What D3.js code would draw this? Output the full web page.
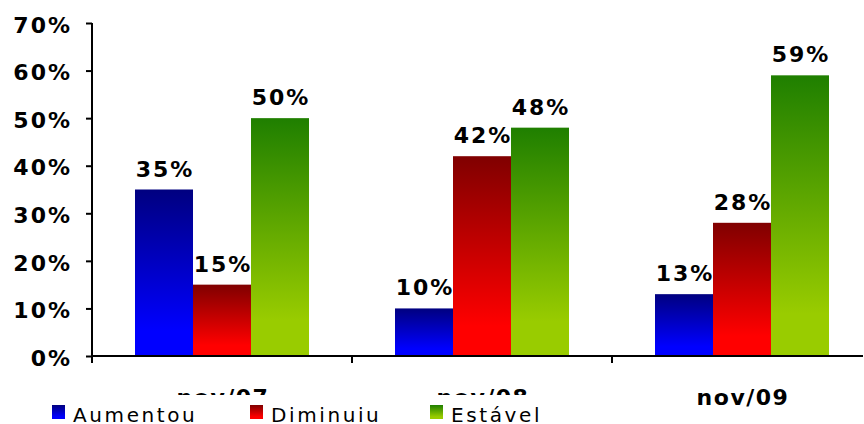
<!DOCTYPE html>
<html><head><meta charset="utf-8">
<script src="https://cdn.jsdelivr.net/npm/d3@7"></script>
<style>body{margin:0;background:#fff}svg{display:block}</style>
</head><body>
<svg id="c" width="864" height="424"></svg>
<script>
const categories = ["nov/07", "nov/08", "nov/09"];
const seriesNames = ["Aumentou", "Diminuiu", "Estável"];
const aumentou = [35, 10, 13];
const diminuiu = [15, 42, 28];
const estavel = [50, 48, 59];
const yTicks = [0, 10, 20, 30, 40, 50, 60, 70];

const series = [aumentou, diminuiu, estavel];
const colors = [["#000080", "#0000ff"], ["#800000", "#ff0000"], ["#1f7f00", "#99cc00"]];

const svg = d3.select("#c");
const defs = svg.append("defs");
colors.forEach((c, i) => {
  const g = defs.append("linearGradient").attr("id", "g" + i)
    .attr("x1", 0).attr("y1", 0).attr("x2", 0).attr("y2", 1);
  g.append("stop").attr("offset", "0%").attr("stop-color", c[0]);
  g.append("stop").attr("offset", "85%").attr("stop-color", c[1]);
  g.append("stop").attr("offset", "100%").attr("stop-color", c[1]);
});

const x0 = d3.scaleBand().domain(categories).range([92, 872]).paddingInner(0).paddingOuter(0);
const x1 = d3.scaleBand().domain(seriesNames).range([43, 260 - 43]);
const y = d3.scaleLinear().domain([0, 70]).range([356, 23]);

const lblFont = "DejaVu Sans, Verdana, sans-serif";

// bars
categories.forEach((cat, ci) => {
  seriesNames.forEach((s, si) => {
    const v = series[si][ci];
    const bx = x0(cat) + x1(s);
    svg.append("rect").attr("x", bx).attr("y", y(v))
      .attr("width", x1.bandwidth()).attr("height", y(0) - y(v))
      .attr("fill", `url(#g${si})`);
    svg.append("text").attr("x", bx + x1.bandwidth() / 2 + 1).attr("y", y(v) - 13)
      .attr("text-anchor", "middle").attr("font-family", lblFont)
      .attr("font-weight", "bold").attr("font-size", 22).attr("letter-spacing", "2px")
      .attr("fill", "#000").text(v + "%");
  });
});

// y axis
const yAxis = d3.axisLeft(y).tickValues(yTicks).tickSize(6).tickPadding(0).tickFormat(d => d + "%");
const ya = svg.append("g").attr("transform", "translate(92,0)").call(yAxis);
ya.select(".domain").attr("stroke", "#000").attr("stroke-width", 2).attr("d", "M0,23V357");
ya.selectAll(".tick line").attr("stroke", "#000").attr("stroke-width", 2);
ya.selectAll(".tick text").attr("x", -20).attr("dy", "0.42em")
  .attr("font-family", lblFont).attr("font-weight", "bold").attr("font-size", 22)
  .attr("letter-spacing", "2px").attr("fill", "#000");

// x axis
svg.append("line").attr("x1", 91).attr("x2", 863).attr("y1", 356).attr("y2", 356)
  .attr("stroke", "#000").attr("stroke-width", 2);
const bounds = [x0(categories[0]), x0(categories[1]), x0(categories[2])];
bounds.forEach(b => {
  svg.append("line").attr("x1", b).attr("x2", b).attr("y1", 356).attr("y2", 363)
    .attr("stroke", "#000").attr("stroke-width", 2);
});
categories.forEach(cat => {
  svg.append("text").attr("x", x0(cat) + x0.bandwidth() / 2 + 1).attr("y", 405)
    .attr("text-anchor", "middle").attr("font-family", lblFont)
    .attr("font-weight", "bold").attr("font-size", 22).attr("letter-spacing", "1.5px")
    .attr("fill", "#000").text(cat);
});

// legend (white box overlapping labels)
const lg = svg.append("g");
lg.append("rect").attr("x", 40).attr("y", 395).attr("width", 520).attr("height", 29).attr("fill", "#fff");
const legendX = [52, 250, 430];
seriesNames.forEach((s, i) => {
  lg.append("rect").attr("x", legendX[i]).attr("y", 405).attr("width", 13).attr("height", 14)
    .attr("fill", `url(#g${i})`);
  lg.append("text").attr("x", legendX[i] + 21).attr("y", 422)
    .attr("font-family", lblFont).attr("font-size", 20).attr("letter-spacing", "2.6px")
    .attr("fill", "#000").text(s);
});
</script>
</body></html>
